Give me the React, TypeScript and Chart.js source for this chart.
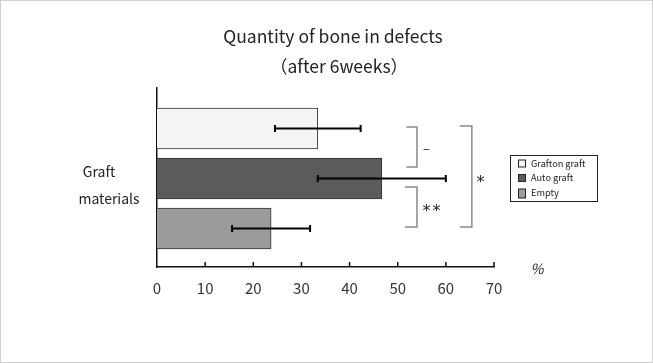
import React, { useEffect, useRef } from "react";
import { Chart, registerables } from "chart.js";
Chart.register(...registerables);

const categories = ["Grafton graft", "Auto graft", "Empty"];
const means = [33.4, 46.7, 23.7];
const errors = [8.9, 13.3, 8.1];
const xTickValues = [0, 10, 20, 30, 40, 50, 60, 70];
const titleLines = ["Quantity of bone in defects", "（after 6weeks）"];
const axisLabelLines = ["Graft", "materials"];
const unitLabel = "%";
const sigLabels = ["–", "**", "*"];

const barColors = ["#f4f4f4", "#5b5b5b", "#9c9c9c"];
const FONT = "'Noto Sans CJK KR', 'Liberation Sans', sans-serif";

// bracket geometry in data units (y = category index, x = value)
const brackets = [
  { y0: -0.03, y1: 0.77, arm: 51.8, x: 54.0, lx: 56.0, ly: 0.41 },
  { y0: 1.17, y1: 1.97, arm: 51.5, x: 54.0, lx: 57.25, ly: 1.58 },
  { y0: -0.05, y1: 1.97, arm: 62.9, x: 65.4, lx: 67.2, ly: 1.0 },
];

const overlay = {
  id: "overlay",
  afterDatasetsDraw(chart: any) {
    const ctx = chart.ctx;
    const xs = chart.scales.x;
    const ys = chart.scales.y;
    ctx.save();
    // inward tick marks
    ctx.strokeStyle = "#111";
    ctx.lineWidth = 1.5;
    xTickValues.forEach((v) => {
      if (v === 0) return;
      const px = xs.getPixelForValue(v);
      ctx.beginPath();
      ctx.moveTo(px, ys.bottom);
      ctx.lineTo(px, ys.bottom - 5);
      ctx.stroke();
    });
    // error bars
    ctx.strokeStyle = "#000";
    ctx.lineWidth = 2;
    means.forEach((m, i) => {
      const y = ys.getPixelForValue(i);
      const a = xs.getPixelForValue(m - errors[i]);
      const b = xs.getPixelForValue(m + errors[i]);
      ctx.beginPath();
      ctx.moveTo(a, y);
      ctx.lineTo(b, y);
      ctx.moveTo(a, y - 3.5);
      ctx.lineTo(a, y + 3.5);
      ctx.moveTo(b, y - 3.5);
      ctx.lineTo(b, y + 3.5);
      ctx.stroke();
    });
    // significance brackets
    ctx.strokeStyle = "#8a8a8a";
    ctx.lineWidth = 1.5;
    brackets.forEach((br, i) => {
      const y0 = ys.getPixelForValue(br.y0);
      const y1 = ys.getPixelForValue(br.y1);
      const a = xs.getPixelForValue(br.arm);
      const x = xs.getPixelForValue(br.x);
      ctx.beginPath();
      ctx.moveTo(a, y0);
      ctx.lineTo(x, y0);
      ctx.lineTo(x, y1);
      ctx.lineTo(a, y1);
      ctx.stroke();
      const label = sigLabels[i];
      ctx.fillStyle = "#222";
      ctx.font = label === "–" ? `13px ${FONT}` : `16px 'DejaVu Sans', sans-serif`;
      try {
        (ctx as any).letterSpacing = label === "**" ? "2px" : "0px";
      } catch (e) {}
      ctx.textAlign = "center";
      ctx.textBaseline = "alphabetic";
      const m = ctx.measureText(label);
      const cy = ys.getPixelForValue(br.ly);
      const off = (m.actualBoundingBoxAscent - m.actualBoundingBoxDescent) / 2;
      ctx.fillText(label, xs.getPixelForValue(br.lx), cy + off);
      try {
        (ctx as any).letterSpacing = "0px";
      } catch (e) {}
    });
    // title
    ctx.fillStyle = "#222";
    ctx.font = `17.5px ${FONT}`;
    ctx.textAlign = "center";
    ctx.textBaseline = "middle";
    ctx.fillText(titleLines[0], 333, 36);
    ctx.fillText(titleLines[1], 339, 66);
    // axis label
    ctx.font = `14px ${FONT}`;
    ctx.fillText(axisLabelLines[0], 99, 172);
    ctx.fillText(axisLabelLines[1], 109, 199);
    // unit
    ctx.font = `italic 14px ${FONT}`;
    ctx.fillText(unitLabel, 537, 269);
    // legend
    const lx = 510, ly = 155, lw = 87, lh = 46;
    ctx.fillStyle = "#fff";
    ctx.fillRect(lx, ly, lw, lh);
    ctx.strokeStyle = "#222";
    ctx.lineWidth = 1;
    ctx.strokeRect(lx + 0.5, ly + 0.5, lw, lh);
    ctx.font = `9.2px ${FONT}`;
    ctx.textAlign = "left";
    categories.forEach((c, i) => {
      const cy = 163.5 + i * 14.5;
      const h = i === 2 ? 9 : 7;
      ctx.fillStyle = barColors[i];
      ctx.fillRect(518, cy - 3.5, 7, h);
      ctx.strokeStyle = "#222";
      ctx.strokeRect(518.5, cy - 3.5, 7, h);
      ctx.fillStyle = "#222";
      ctx.fillText(c, 531, cy);
    });
    // outer frame
    ctx.strokeStyle = "#cfcfcf";
    ctx.lineWidth = 1;
    ctx.strokeRect(0.5, 0.5, chart.width - 1, chart.height - 1);
    ctx.restore();
  },
};

export default function App() {
  const ref = useRef<HTMLCanvasElement>(null);
  useEffect(() => {
    document.body.style.margin = "0";
    const chart = new Chart(ref.current!, {
      type: "bar",
      data: {
        datasets: [
          {
            data: means.map((m, i) => ({ x: m, y: i })),
            backgroundColor: barColors,
            borderColor: "#333",
            borderWidth: 1,
            barThickness: 41,
          },
        ],
      },
      options: {
        indexAxis: "y",
        animation: false,
        responsive: false,
        devicePixelRatio: 1,
        layout: { padding: { top: 88, right: 159, left: 0, bottom: 0 } },
        plugins: { legend: { display: false }, tooltip: { enabled: false } },
        scales: {
          x: {
            type: "linear",
            min: 0,
            max: 70,
            offset: false,
            afterBuildTicks: (s: any) => {
              s.ticks = xTickValues.map((v) => ({ value: v }));
            },
            afterFit: (s: any) => {
              s.height = 96;
            },
            grid: { display: false, drawTicks: false },
            border: { display: true, color: "#111", width: 1.5 },
            ticks: { color: "#333", font: { family: FONT, size: 15 }, padding: 12 },
          },
          y: {
            type: "linear",
            min: -0.81,
            max: 2.77,
            bounds: "data",
            offset: false,
            reverse: true,
            afterFit: (s: any) => {
              s.width = 157;
            },
            grid: { display: false, drawTicks: false },
            border: { display: true, color: "#111", width: 1.5 },
            ticks: { display: false },
          },
        },
      },
      plugins: [overlay],
    });
    return () => chart.destroy();
  }, []);
  return <canvas ref={ref} width={653} height={363} style={{ display: "block" }} />;
}
